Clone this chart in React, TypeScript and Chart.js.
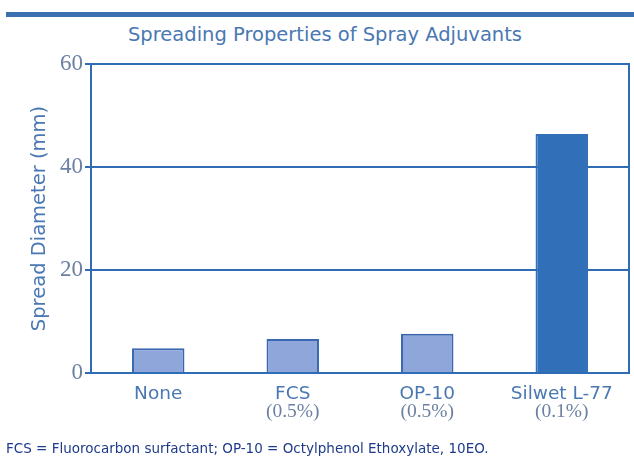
import React, { useEffect, useRef } from "react";
import { Chart, registerables } from "chart.js";

Chart.register(...registerables);

const categories = ["None", "FCS", "OP-10", "Silwet L-77"];
const subLabels = ["", "(0.5%)", "(0.5%)", "(0.1%)"];
const spreadValues = [4.8, 6.6, 7.6, 46.4];
const yTicks = [0, 20, 40, 60];
const titleText = "Spreading Properties of Spray Adjuvants";
const yTitle = "Spread Diameter (mm)";
const footnote = "FCS = Fluorocarbon surfactant; OP-10 = Octylphenol Ethoxylate, 10EO.";

const AXIS = "#2f6cb5";
const LIGHT = "#8fa6db";
const LIGHT_BORDER = "#3a68b0";
const DARK = "#3170b8";
const TEXT = "#4a78b2";
const TICK = "#6c80a2";

export default function App() {
  const ref = useRef<HTMLCanvasElement | null>(null);
  useEffect(() => {
    if (!ref.current) return;
    const subLabelPlugin = {
      id: "subLabels",
      afterDraw(chart: any) {
        const x = chart.scales.x;
        const ctx = chart.ctx;
        ctx.save();
        ctx.font = "19.5px 'Liberation Serif', serif";
        ctx.fillStyle = TICK;
        ctx.textAlign = "center";
        ctx.textBaseline = "middle";
        subLabels.forEach((s, i) => {
          if (!s) return;
          ctx.fillText(s, x.getPixelForValue(i), 412);
        });
        ctx.restore();
      },
    };
    const chart = new Chart(ref.current, {
      type: "bar",
      data: {
        labels: categories,
        datasets: [
          {
            data: spreadValues,
            backgroundColor: spreadValues.map((_, i) => (i === 3 ? DARK : LIGHT)),
            borderColor: spreadValues.map((_, i) => (i === 3 ? DARK : LIGHT_BORDER)),
            borderWidth: 2,
            borderSkipped: "bottom",
            barPercentage: 0.39,
            categoryPercentage: 1,
          },
        ],
      },
      options: {
        animation: false,
        responsive: false,
        maintainAspectRatio: false,
        layout: { padding: { top: 64, left: 0, right: 0, bottom: 0 } },
        plugins: { legend: { display: false }, tooltip: { enabled: false }, title: { display: false } },
        scales: {
          x: {
            grid: { display: false },
            border: { display: true, color: AXIS, width: 2 },
            ticks: {
              color: TEXT,
              font: { family: "'DejaVu Sans', sans-serif", size: 18.5 },
              padding: 2,
              maxRotation: 0,
            },
            afterFit(scale: any) {
              scale.height = 458 - 373;
            },
          },
          y: {
            min: 0,
            max: 60,
            afterBuildTicks(scale: any) {
              scale.ticks = yTicks.map((v) => ({ value: v }));
            },
            grid: { color: AXIS, lineWidth: 2, tickLength: 6, tickColor: AXIS },
            border: { display: true, color: AXIS, width: 2 },
            ticks: {
              color: TICK,
              font: { family: "'Liberation Serif', serif", size: 23 },
              padding: 2,
            },
            title: {
              display: true,
              text: yTitle,
              color: TEXT,
              font: { family: "'DejaVu Sans', sans-serif", size: 19.5 },
              padding: { top: 28, bottom: 0 },
            },
            afterFit(scale: any) {
              scale.width = 91;
            },
          },
          y2: {
            position: "right",
            min: 0,
            max: 60,
            grid: { display: false },
            border: { display: true, color: AXIS, width: 2 },
            ticks: { display: false },
            afterFit(scale: any) {
              scale.width = 634 - 629;
            },
          },
        },
      },
      plugins: [subLabelPlugin],
    } as any);
    return () => chart.destroy();
  }, []);

  return (
    <div style={{ position: "fixed", left: 0, top: 0, width: 634, height: 458, background: "#fff", overflow: "hidden" }}>
      <div style={{ position: "absolute", left: 6, top: 12, width: 628, height: 5, background: "#3a6fb0" }} />
      <div
        style={{
          position: "absolute",
          left: 0,
          width: 650,
          top: 23,
          textAlign: "center",
          fontFamily: "'DejaVu Sans', sans-serif",
          fontSize: 19.5,
          color: TEXT,
          whiteSpace: "nowrap",
        }}
      >
        {titleText}
      </div>
      <canvas ref={ref} width={634} height={458} style={{ position: "absolute", left: 0, top: 0 }} />
      <div
        style={{
          position: "absolute",
          left: 6,
          top: 440,
          fontFamily: "'DejaVu Sans', sans-serif",
          fontSize: 13.5,
          color: "#1f3a8a",
          whiteSpace: "nowrap",
        }}
      >
        {footnote}
      </div>
    </div>
  );
}
